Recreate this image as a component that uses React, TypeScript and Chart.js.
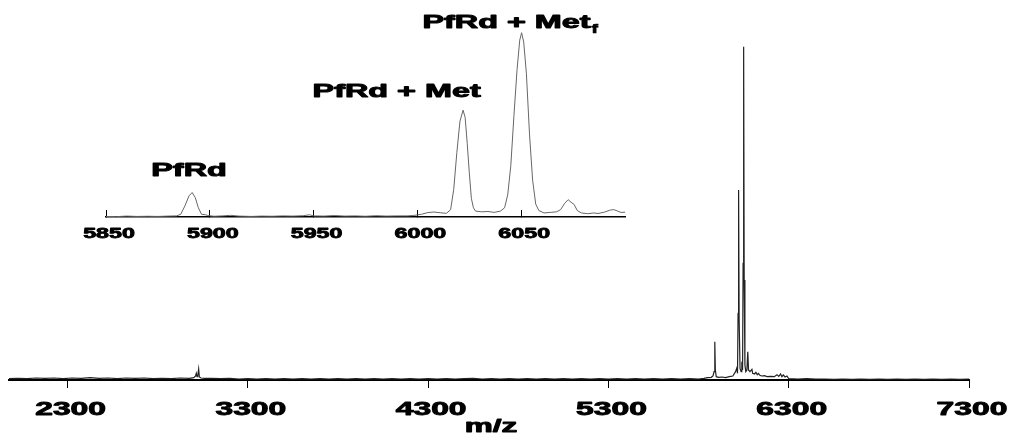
import React, { useEffect, useRef } from 'react';
import { Chart, registerables } from 'chart.js';

Chart.register(...registerables);

// ---- Main spectrum (m/z vs relative intensity, % of base peak) ----
const MAIN_MZ = [
  1975, 2025, 2075, 2125, 2175, 2225, 2275, 2325, 2375, 2425, 2475, 2525, 2575, 2625, 2675, 2725, 2775,
  2825, 2875, 2925, 2975, 3000, 3010, 3014, 3018, 3022, 3027, 3031, 3040, 3060, 3100, 3150, 3200, 3250,
  3300, 3350, 3400, 3450, 3500, 3550, 3600, 3650, 3700, 3750, 3800, 3850, 3900, 3950, 4000, 4050, 4100,
  4150, 4200, 4250, 4300, 4350, 4400, 4450, 4500, 4550, 4600, 4650, 4700, 4750, 4800, 4850, 4900, 4950,
  5000, 5050, 5100, 5150, 5200, 5250, 5300, 5350, 5400, 5450, 5500, 5550, 5600, 5650, 5700, 5750, 5800,
  5830, 5850, 5870, 5880, 5886, 5890, 5893, 5898, 5910, 5930, 5950, 5970, 5990, 6005, 6012, 6016, 6019,
  6022, 6025, 6030, 6036, 6040, 6044, 6047, 6050, 6053, 6057, 6062, 6068, 6073, 6077, 6085, 6096, 6100,
  6110, 6118, 6125, 6132, 6140, 6150, 6165, 6180, 6200, 6220, 6235, 6245, 6255, 6262, 6270, 6280, 6290,
  6300, 6350, 6400, 6450, 6500, 6550, 6600, 6650, 6700, 6750, 6800, 6850, 6900, 6950, 7000, 7050, 7100,
  7150, 7200, 7250, 7300,
];
const MAIN_INT = [
  0.4, 0.5, 0.4, 0.6, 0.5, 0.6, 0.4, 0.6, 0.5, 0.7, 0.5, 0.6, 0.4, 0.6, 0.5, 0.6, 0.4,
  0.5, 0.4, 0.6, 0.5, 0.7, 1.2, 2.0, 1.0, 1.2, 3.3, 0.9, 0.6, 0.5, 0.5, 0.4, 0.5, 0.3,
  0.4, 0.3, 0.4, 0.3, 0.4, 0.3, 0.4, 0.3, 0.4, 0.3, 0.4, 0.3, 0.4, 0.3, 0.4, 0.3, 0.4,
  0.3, 0.4, 0.3, 0.4, 0.3, 0.4, 0.3, 0.4, 0.5, 0.3, 0.4, 0.3, 0.4, 0.3, 0.4, 0.3, 0.4,
  0.3, 0.4, 0.3, 0.4, 0.3, 0.4, 0.3, 0.4, 0.3, 0.4, 0.3, 0.4, 0.3, 0.4, 0.3, 0.4, 0.3,
  0.5, 0.7, 0.8, 1.2, 2.5, 11.5, 3.0, 1.0, 0.8, 0.9, 0.7, 1.0, 1.2, 2.5, 3.6, 2.0, 20,
  57, 18, 3.5, 2.5, 5.5, 3.0, 35, 100, 30, 4.5, 2.5, 3.0, 8.5, 3.0, 2.5, 3.2, 2.0,
  1.8, 2.3, 1.6, 2.0, 1.4, 1.2, 1.3, 1.0, 1.1, 1.0, 1.6, 1.1, 1.8, 1.0, 1.5, 0.9, 1.2,
  0.4, 0.3, 0.4, 0.3, 0.3, 0.2, 0.3, 0.2, 0.3, 0.2, 0.3, 0.2, 0.3, 0.2, 0.3, 0.2, 0.3,
  0.2, 0.3, 0.2, 0.3,
];
const MAIN_X_MIN = 1975;
const MAIN_X_MAX = 7300;
const MAIN_Y_MAX = 111;
const MAIN_TICKS = [2300, 3300, 4300, 5300, 6300, 7300];
const MAIN_TICK_LABELS = ['2300', '3300', '4300', '5300', '6300', '7300'];
const MAIN_X_TITLE = 'm/z';

// ---- Inset (zoom on 5850-6100) ----
const INSET_MZ = [
  5850, 5855, 5860, 5865, 5870, 5875, 5880, 5884, 5886, 5888, 5890, 5891.5, 5893, 5894.5, 5896, 5898,
  5899, 5902, 5906, 5910, 5914, 5920, 5925, 5930, 5935, 5940, 5945, 5948, 5950, 5955, 5960, 5965, 5970,
  5975, 5980, 5985, 5990, 5995, 5998, 6002, 6005, 6008, 6011, 6014, 6016, 6017.5, 6019, 6020.5, 6022,
  6023, 6024, 6025, 6026, 6027, 6028, 6031, 6034, 6037, 6040, 6042, 6043.5, 6045, 6046.5, 6048, 6049.3,
  6050.2, 6051.2, 6052.5, 6054, 6055.5, 6057, 6058.5, 6061, 6064, 6067, 6069, 6071, 6072.6, 6074, 6075.5,
  6077, 6079, 6082, 6085, 6087, 6090, 6093, 6094.6, 6096.5, 6098, 6100,
];
const INSET_INT = [
  0.3, 0.2, 0.5, 0.3, 0.4, 0.3, 0.5, 0.6, 1.5, 6, 11.5, 13.3, 10.5, 5, 1.5, 1.2,
  0.8, 0.4, 0.6, 0.9, 0.5, 0.3, 0.5, 0.4, 0.6, 0.5, 0.7, 1.2, 0.6, 0.5, 0.8, 0.5, 0.6,
  0.4, 0.7, 0.5, 0.6, 0.6, 0.8, 1.5, 2.4, 2.7, 2.3, 2.0, 4, 15, 35, 52, 58,
  54, 40, 24, 10, 5, 3.2, 2.8, 3.0, 2.5, 3.2, 5, 12, 28, 55, 80, 96,
  100, 95, 78, 45, 20, 7, 3.5, 2.2, 2.5, 2.8, 4, 7.5, 9.4, 8, 6.8,
  3.5, 2.2, 1.8, 2.2, 1.9, 2.6, 3.8, 4, 3.2, 2.5, 2.6,
];
const INSET_X_MIN = 5850;
const INSET_X_MAX = 6100;
const INSET_Y_MAX = 115.6;
const INSET_TICKS = [5850, 5900, 5950, 6000, 6050];
const INSET_TICK_LABELS = ['5850', '5900', '5950', '6000', '6050'];

// Peak annotations in inset data coordinates
const ANNOT_TEXT = ['PfRd', 'PfRd + Met', 'PfRd + Met'];
const ANNOT_SUB = ['', '', 'f'];
const ANNOT_X = [5890, 5990, 6002.4];
const ANNOT_Y = [22.3, 65.1, 102.4];
const ANNOT_ALIGN = ['center', 'center', 'left'];

const FONT_FAMILY = '"Liberation Sans", Arial, sans-serif';

function drawStretched(
  ctx: CanvasRenderingContext2D,
  text: string,
  x: number,
  y: number,
  size: number,
  stretch: number,
  align: string,
  weight: number = 0.7
): number {
  ctx.save();
  ctx.font = `bold ${size}px ${FONT_FAMILY}`;
  ctx.fillStyle = '#000';
  ctx.strokeStyle = '#000';
  ctx.lineJoin = 'round';
  ctx.textBaseline = 'alphabetic';
  ctx.textAlign = 'left';
  const w = ctx.measureText(text).width * stretch;
  let left = x;
  if (align === 'center') left = x - w / 2;
  else if (align === 'right') left = x - w;
  ctx.translate(left, y);
  ctx.scale(stretch, 1);
  ctx.fillText(text, 0, 0);
  if (weight > 0) {
    ctx.lineWidth = weight;
    ctx.strokeText(text, 0, 0);
  }
  ctx.restore();
  return left + w;
}

const mainLabelsPlugin = {
  id: 'mainLabels',
  afterDraw(chart: any) {
    const ctx = chart.ctx as CanvasRenderingContext2D;
    const xs = chart.scales.x;
    const area = chart.chartArea;
    MAIN_TICKS.forEach((v, i) => {
      drawStretched(ctx, MAIN_TICK_LABELS[i], xs.getPixelForValue(v) + 3, area.bottom + 35, 18.5, 1.72, 'center', 0.9);
    });
    drawStretched(ctx, MAIN_X_TITLE, (area.left + area.right) / 2 + 2, area.bottom + 52, 17.5, 1.8, 'center', 0.9);
  },
};

const insetLabelsPlugin = {
  id: 'insetLabels',
  afterDraw(chart: any) {
    const ctx = chart.ctx as CanvasRenderingContext2D;
    const xs = chart.scales.x;
    const ys = chart.scales.y;
    const area = chart.chartArea;
    INSET_TICKS.forEach((v, i) => {
      drawStretched(ctx, INSET_TICK_LABELS[i], xs.getPixelForValue(v) + 3, area.bottom + 21, 14, 1.66, 'center', 0.8);
    });
    ANNOT_TEXT.forEach((t, i) => {
      const px = xs.getPixelForValue(ANNOT_X[i]);
      const py = ys.getPixelForValue(ANNOT_Y[i]);
      const end = drawStretched(ctx, t, px, py, 17.5, 1.85, ANNOT_ALIGN[i], 0.9);
      if (ANNOT_SUB[i]) {
        drawStretched(ctx, ANNOT_SUB[i], end + 1, py + 5, 12, 1.6, 'left', 0.7);
      }
    });
  },
};

export default function App() {
  const mainRef = useRef<HTMLCanvasElement | null>(null);
  const insetRef = useRef<HTMLCanvasElement | null>(null);

  useEffect(() => {
    if (!mainRef.current || !insetRef.current) return;

    const mainChart = new Chart(mainRef.current, {
      type: 'line',
      data: {
        datasets: [
          {
            data: MAIN_MZ.map((x, i) => ({ x, y: MAIN_INT[i] })),
            borderColor: '#222',
            borderWidth: 1.2,
            pointRadius: 0,
            tension: 0,
            fill: false,
          },
        ],
      },
      options: {
        responsive: false,
        animation: false,
        events: [],
        layout: { padding: { left: 9, right: 43, top: 10, bottom: 0 } },
        plugins: { legend: { display: false }, tooltip: { enabled: false } },
        scales: {
          x: {
            type: 'linear',
            min: MAIN_X_MIN,
            max: MAIN_X_MAX,
            afterBuildTicks: (scale: any) => {
              scale.ticks = MAIN_TICKS.map((v) => ({ value: v }));
            },
            afterFit: (scale: any) => {
              scale.height = 54;
            },
            ticks: { display: false },
            grid: {
              display: true,
              drawOnChartArea: false,
              drawTicks: true,
              tickLength: 8,
              tickColor: '#000',
              tickWidth: 1,
            },
            border: { display: true, color: '#000', width: 2 },
          },
          y: {
            display: false,
            min: 0,
            max: MAIN_Y_MAX,
          },
        },
      } as any,
      plugins: [mainLabelsPlugin],
    });

    const insetChart = new Chart(insetRef.current, {
      type: 'line',
      data: {
        datasets: [
          {
            data: INSET_MZ.map((x, i) => ({ x, y: INSET_INT[i] })),
            borderColor: '#666',
            borderWidth: 1,
            pointRadius: 0,
            tension: 0,
            fill: false,
          },
        ],
      },
      options: {
        responsive: false,
        animation: false,
        events: [],
        layout: { padding: { left: 106, right: 387, top: 4, bottom: 0 } },
        plugins: { legend: { display: false }, tooltip: { enabled: false } },
        scales: {
          x: {
            type: 'linear',
            min: INSET_X_MIN,
            max: INSET_X_MAX,
            afterBuildTicks: (scale: any) => {
              scale.ticks = INSET_TICKS.map((v) => ({ value: v }));
            },
            afterFit: (scale: any) => {
              scale.height = 43;
            },
            ticks: { display: false },
            grid: {
              display: true,
              drawOnChartArea: false,
              drawTicks: true,
              tickLength: -7,
              tickColor: '#000',
              tickWidth: 1,
            },
            border: { display: true, color: '#000', width: 1.5 },
          },
          y: {
            display: false,
            min: 0,
            max: INSET_Y_MAX,
          },
        },
      } as any,
      plugins: [insetLabelsPlugin],
    });

    return () => {
      mainChart.destroy();
      insetChart.destroy();
    };
  }, []);

  return (
    <div style={{ position: 'fixed', left: 0, top: 0, width: 1012, height: 434, background: '#fff' }}>
      <canvas
        ref={mainRef}
        width={1012}
        height={434}
        style={{ position: 'absolute', left: 0, top: 0, width: 1012, height: 434 }}
      />
      <canvas
        ref={insetRef}
        width={1012}
        height={260}
        style={{ position: 'absolute', left: 0, top: 0, width: 1012, height: 260, pointerEvents: 'none' }}
      />
    </div>
  );
}
